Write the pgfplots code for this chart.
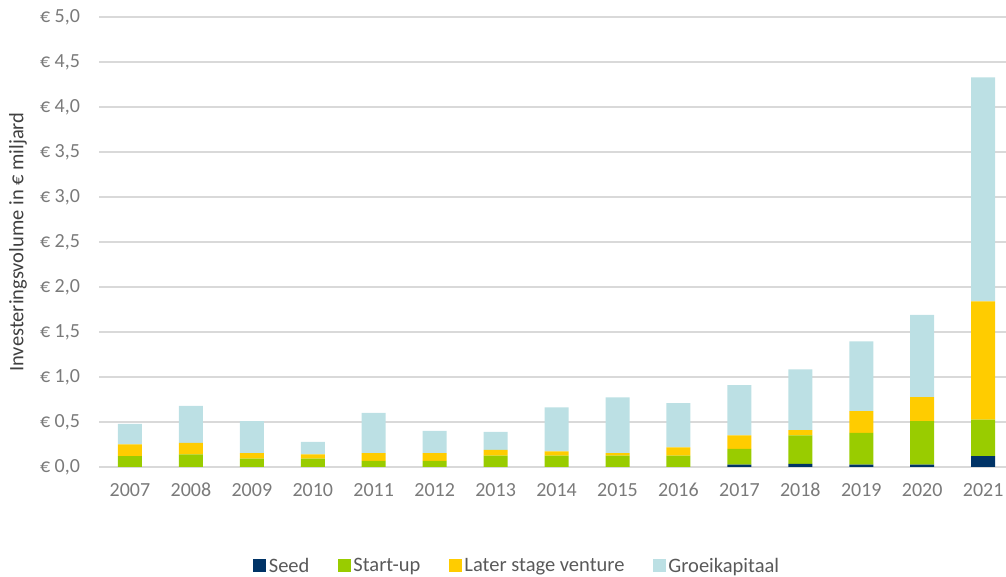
\documentclass[border=0pt]{standalone}
\usepackage{pgfplots}
\usepackage{pgfplotstable}
\pgfplotsset{compat=1.18}
\usepackage{fontspec}
\setmainfont{Carlito}
\definecolor{seed}{HTML}{003366}
\definecolor{startup}{HTML}{99CC00}
\definecolor{later}{HTML}{FFCC00}
\definecolor{groei}{HTML}{BCE0E4}
\definecolor{ticktxt}{HTML}{7A7A7A}
\definecolor{labtxt}{HTML}{404040}
\definecolor{legtxt}{HTML}{595959}
\definecolor{gridc}{HTML}{D9D9D9}

\pgfplotstableread{
x seed start later groei
0 0 0.120 0.130 0.230
1 0 0.140 0.127 0.413
2 0 0.092 0.063 0.355
3 0 0.092 0.048 0.138
4 0 0.067 0.088 0.445
5 0 0.067 0.088 0.245
6 0 0.126 0.063 0.200
7 0 0.126 0.048 0.489
8 0 0.126 0.029 0.619
9 0 0.126 0.093 0.492
10 0.025 0.175 0.150 0.560
11 0.035 0.315 0.060 0.676
12 0.025 0.355 0.240 0.775
13 0.025 0.485 0.265 0.915
14 0.120 0.407 1.313 2.490
}\datatable

\begin{document}
\begin{tikzpicture}
\useasboundingbox (0pt,0pt) rectangle (1006pt,577pt);
\begin{axis}[
  at={(99.5pt,110pt)}, anchor=south west,
  scale only axis, width=906.5pt, height=450pt,
  ybar stacked, bar width=24pt,
  xmin=-0.5, xmax=14.375, ymin=0, ymax=5,
  axis line style={draw=none},
  xtick style={draw=none}, ytick style={draw=none},
  ymajorgrids, grid style={gridc, line width=1.3pt},
  xtick={0,...,14},
  xticklabels={2007,2008,2009,2010,2011,2012,2013,2014,2015,2016,2017,2018,2019,2020,2021},
  ytick={0,0.5,1,1.5,2,2.5,3,3.5,4,4.5,5},
  yticklabel={€ \pgfmathprintnumber[fixed,fixed zerofill,precision=1,use comma]{\tick}},
  /pgf/number format/assume math mode=true,
  xticklabel style={font=\fontsize{20}{24}\selectfont, text=ticktxt, anchor=north, text height=13pt, text depth=0pt, yshift=-13pt},
  yticklabel style={font=\fontsize{20}{24}\selectfont, text=ticktxt, xshift=-16pt},
  ylabel={Investeringsvolume in € miljard},
  ylabel style={font=\fontsize{20.5}{24}\selectfont, text=labtxt, at={(axis description cs:-0.0899,0.5)}, anchor=center},
  legend columns=4,
  legend style={draw=none, fill=none, at={(0.4611,-0.22)}, anchor=center,
    font=\fontsize{20.5}{24}\selectfont, text=legtxt,
    nodes={inner sep=2.5pt},
    /tikz/every even column/.append style={column sep=26pt}},
  legend image code/.code={\fill[#1] (0pt,-6.5pt) rectangle (13pt,6.5pt);},
  legend cell align=left,
]
\addplot[fill=seed, draw=none] table[x=x, y=seed] {\datatable};
\addplot[fill=startup, draw=none] table[x=x, y=start] {\datatable};
\addplot[fill=later, draw=none] table[x=x, y=later] {\datatable};
\addplot[fill=groei, draw=none] table[x=x, y=groei] {\datatable};
\legend{Seed, Start-up, Later stage venture, Groeikapitaal}
\end{axis}
\end{tikzpicture}
\end{document}
